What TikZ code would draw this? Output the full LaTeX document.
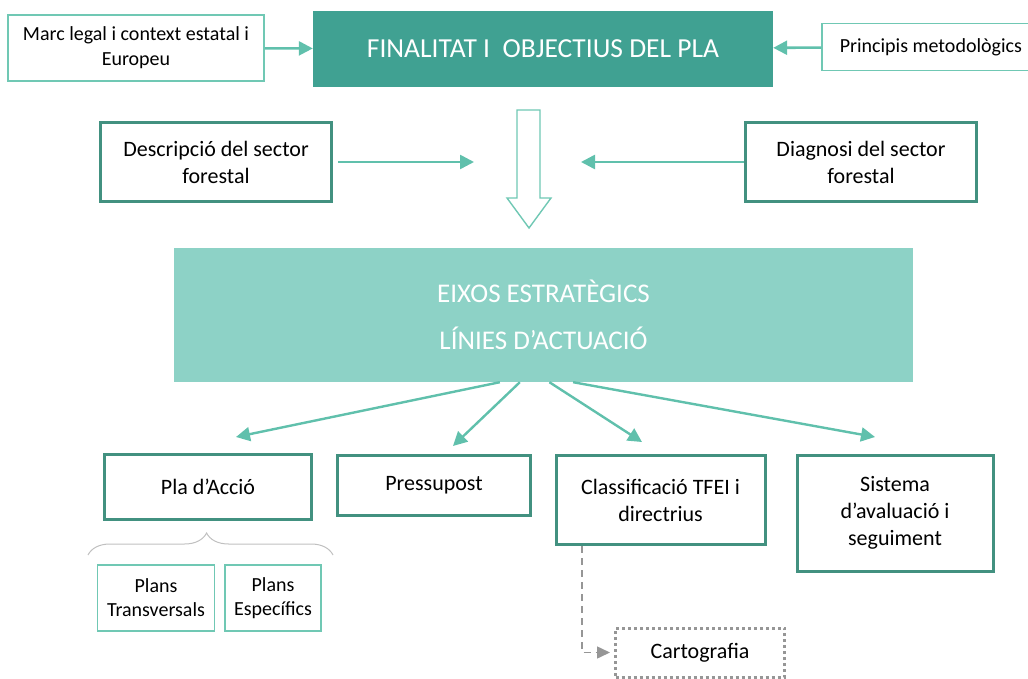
\documentclass[tikz,border=0pt]{standalone}
\usepackage{fontspec}
\setmainfont{Carlito}
\usetikzlibrary{arrows.meta, positioning, calc, decorations.pathreplacing}
\definecolor{tealdark}{RGB}{64,161,146}
\definecolor{teallight}{RGB}{141,210,198}
\definecolor{tealline}{RGB}{66,145,128}
\definecolor{tealthin}{RGB}{112,200,180}
\definecolor{tealarrow}{RGB}{96,192,172}
\definecolor{greyline}{RGB}{150,150,150}
\tikzset{source/.style={draw=tealthin, line width=1.8pt, align=center, font=\fontsize{20}{25}\selectfont, inner sep=0pt}}
\tikzset{goal/.style={fill=tealdark, text=white, align=center, font=\fontsize{27.5}{32}\selectfont, inner sep=0pt}}
\tikzset{axis/.style={fill=teallight, text=white, align=center, font=\fontsize{27}{47}\selectfont, inner sep=0pt}}
\tikzset{block/.style={draw=tealline, line width=3pt, align=center, font=\fontsize{22}{27}\selectfont, inner sep=0pt}}
\tikzset{sub/.style={draw=tealthin, line width=1.6pt, align=center, font=\fontsize{20}{24}\selectfont, inner sep=0pt}}
\tikzset{map/.style={draw=greyline, line width=3pt, dash pattern=on 3pt off 3pt, align=center, font=\fontsize{22}{27}\selectfont, inner sep=0pt}}
\tikzset{feed/.style={draw=tealarrow, line width=2.6pt, -{Triangle[length=14pt, width=14pt]}}}
\tikzset{branch/.style={draw=tealarrow, line width=2.4pt, -{Triangle[length=14pt, width=14pt]}}}

\begin{document}
\begin{tikzpicture}[x=1pt, y=-1pt]
\useasboundingbox (0,0) rectangle (1028,679);

\node[source, minimum width=256pt, minimum height=66pt, text depth=4pt] (marc) at (136,48) {Marc legal i context estatal i\\Europeu};
\node[goal, minimum width=460pt, minimum height=76pt] (finalitat) at (543,49) {FINALITAT I~~OBJECTIUS DEL PLA};
\node[source, minimum width=218pt, minimum height=47pt, anchor=west] (principis) at (821,47) {Principis metodològics};

\node[block, minimum width=231pt, minimum height=79pt] (descripcio) at (216,162) {Descripció del sector\\forestal};
\node[block, minimum width=231pt, minimum height=79pt] (diagnosi) at (861,162) {Diagnosi del sector\\forestal};
\coordinate (desc_end) at (474,162);
\coordinate (diag_end) at (581,162);

\node[axis, minimum width=739pt, minimum height=134pt] (eixos) at (543.5,315) {EIXOS ESTRATÈGICS\\LÍNIES D’ACTUACIÓ};

\node[block, minimum width=207pt, minimum height=65pt] (pla) at (208,487) {Pla d’Acció};
\node[block, minimum width=193pt, minimum height=60pt] (pressupost) at (434,485) {Pressupost};
\node[block, minimum width=209pt, minimum height=89pt] (classificacio) at (660.5,500) {Classificació TFEI i\\directrius};
\node[block, minimum width=196pt, minimum height=116pt] (sistema) at (895,513) {Sistema\\d’avaluació i\\seguiment};

\node[sub, minimum width=117pt, minimum height=66pt] (transversals) at (156,598) {Plans\\Transversals};
\node[sub, minimum width=96pt, minimum height=66pt] (especifics) at (273,598) {Plans\\Específics};
\node[map, minimum width=169pt, minimum height=49pt] (cartografia) at (700,652.5) {Cartografia};

\coordinate (pla_end) at (236,437);
\coordinate (pres_end) at (453,446);
\coordinate (class_end) at (642,442);
\coordinate (sist_end) at (875,437);

% hollow arrow between the two feeds
\draw[draw=tealthin, line width=1.4pt, fill=white, line join=miter] (517,110) -- (540,110) -- (540,198) -- (551,198) -- (529,228) -- (507,198) -- (517,198) -- cycle;

\draw[feed] (marc) -- (finalitat);
\draw[feed] (principis) -- (finalitat);
\draw[feed] (descripcio.east) ++(5pt,0) -- (desc_end);
\draw[feed] (diagnosi) -- (diag_end);

\draw[branch] ($(eixos.south west)!0.441!(eixos.south east)$) -- (pla_end);
\draw[branch] ($(eixos.south west)!0.468!(eixos.south east)$) -- (pres_end);
\draw[branch] ($(eixos.south west)!0.508!(eixos.south east)$) -- (class_end);
\draw[branch] ($(eixos.south west)!0.540!(eixos.south east)$) -- (sist_end);

\draw[greyline!60, line width=1pt, decorate, decoration={brace, amplitude=22pt, aspect=0.484}] (88,555) -- (333,555);

\draw[greyline, line width=1.5pt, dash pattern=on 7pt off 5pt, shorten >=4pt, -{Triangle[length=13pt, width=12pt]}] ([xshift=-78.5pt]classificacio.south) |- (cartografia);

\end{tikzpicture}
\end{document}
